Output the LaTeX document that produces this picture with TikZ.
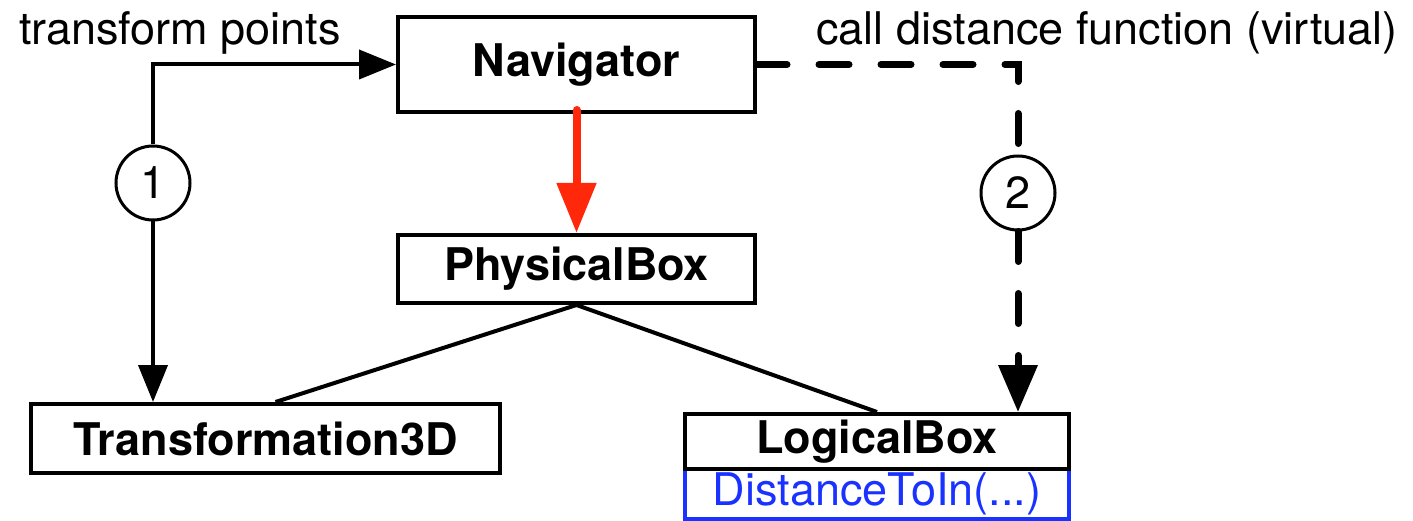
\documentclass[tikz,border=0pt]{standalone}
\usepackage{fontspec}
\setmainfont{TeX Gyre Heros}
\usetikzlibrary{arrows.meta,calc}
\definecolor{redarr}{RGB}{255,40,10}
\definecolor{blueop}{RGB}{25,50,255}
\tikzset{
  every node/.style={font=\fontsize{45}{54}\selectfont, inner sep=0pt},
  cls/.style={draw, line width=4pt, font=\fontsize{45}{54}\selectfont\bfseries},
  num/.style={draw, circle, line width=3pt, minimum size=74pt},
  conn/.style={line width=4pt},
  arr/.style={conn, -{Triangle[length=37pt,width=29pt]}},
  dsh/.style={line width=7pt, dash pattern=on 30pt off 32pt, line cap=round},
}
\begin{document}
\begin{tikzpicture}[x=1pt,y=-1pt]
\useasboundingbox (0,0) rectangle (1413,521);
% nodes
\node[cls, minimum width=357pt, minimum height=95pt] (nav) at (576.5,64.5) {Navigator};
\node[cls, minimum width=357pt, minimum height=68pt] (phys) at (576.5,269) {PhysicalBox};
\node[cls, minimum width=469pt, minimum height=69pt] (trans) at (265.5,438.5) {Transformation3D};
\node[draw=blueop, line width=3.5pt, minimum width=384pt, minimum height=50pt, text=blueop] (ops) at (877,494) {DistanceToIn(...)};
\node[cls, minimum width=384pt, minimum height=55pt] (lb) at (877,441.5) {LogicalBox};
\node[num] (c1) at (153,183) {1};
\node[num] (c2) at (1018,193) {2};
\node (l1) at (180,33) {transform points};
\node (l2) at (1107,33) {call distance function (virtual)};
% connectors
\draw[arr] (c1.north) |- (nav.west);
\draw[arr] (c1.south) -- (c1.south |- trans.north);
\draw[line width=8pt, redarr, line cap=round, -{Triangle[length=50pt,width=38pt]}] ([yshift=4pt]nav.south) -- (phys.north);
\draw[conn] (phys.south) -- ([xshift=10pt]trans.north);
\draw[conn] (phys.south) -- (lb.north);
\draw[dsh] (nav.east) -| (c2.north);
\draw[dsh, -{Triangle[length=47pt,width=38pt]}] (c2.south) -- (c2.south |- lb.north);
\end{tikzpicture}
\end{document}
